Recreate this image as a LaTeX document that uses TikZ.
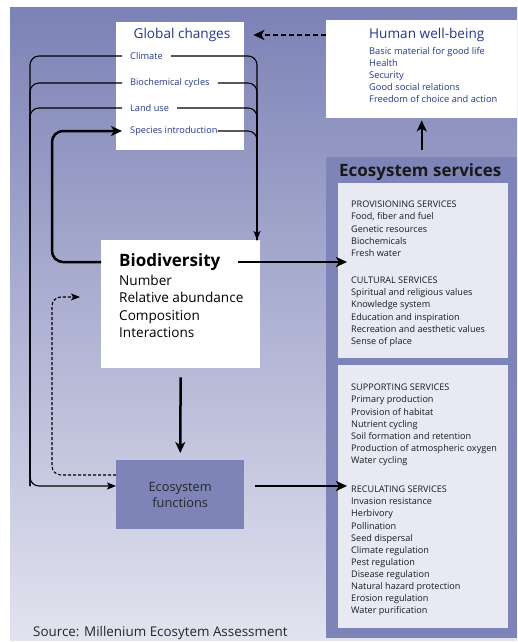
\documentclass[tikz,border=0pt]{standalone}
\usepackage{fontspec}
\setmainfont{Open Sans}
\usetikzlibrary{arrows.meta,calc}
\definecolor{bgtop}{RGB}{124,130,182}
\definecolor{bgbot}{RGB}{226,227,239}
\definecolor{panel}{RGB}{126,132,183}
\definecolor{innerbox}{RGB}{233,233,243}
\definecolor{bluetxt}{RGB}{35,55,140}
\definecolor{listtxt}{RGB}{25,25,30}
\tikzset{
  box/.style={fill=white, draw=none, anchor=north west, inner sep=0pt},
  gclabel/.style={text=bluetxt, font=\fontsize{9.2}{10}\selectfont, inner xsep=8pt, inner ysep=1pt, anchor=west},
  listnode/.style={text=listtxt, font=\fontsize{9.1}{12.1}\selectfont, align=left, anchor=north west, inner sep=0pt},
  thinline/.style={line width=1.1pt, rounded corners=9pt},
  thickline/.style={line width=2.5pt, rounded corners=11pt},
  thinarrow/.style={-{Stealth[length=9pt,width=7pt,inset=2pt]}},
  thickarrow/.style={-{Stealth[length=11pt,width=10pt,inset=3pt]}},
}
\begin{document}
\begin{tikzpicture}[x=1pt,y=-1pt]
\useasboundingbox (0,0) rectangle (517,642);
\shade[top color=bgtop,bottom color=bgbot] (10,8) rectangle (517,640);

% Global changes
\node[box, minimum width=128pt, minimum height=128pt] (gc) at (116,22) {};
\node[text=bluetxt, font=\fontsize{13.6}{15}\selectfont] (gctitle) at (182,35) {Global changes};
\node[gclabel] (climate) at (122,56) {Climate};
\node[gclabel] (biochem) at (122,83) {Biochemical cycles};
\node[gclabel] (landuse) at (122,108) {Land use};
\node[gclabel] (species) at (122,131) {Species introduction};

% Human well-being
\node[box, minimum width=191pt, minimum height=98pt] (hwb) at (326,20) {};
\node[text=bluetxt, font=\fontsize{13.6}{15}\selectfont, anchor=west, inner sep=0pt] (hwbtitle) at (369,35) {Human well-being};
\node[text=bluetxt, font=\fontsize{9.3}{12}\selectfont, align=left, anchor=north west, inner sep=0pt] (hwblist) at (369,47)
  {Basic material for good life\\Health\\Security\\Good social relations\\Freedom of choice and action};

% Biodiversity
\node[box, minimum width=159pt, minimum height=128pt] (bd) at (101,240) {};
\node[font=\fontsize{17}{19}\selectfont\bfseries, anchor=west, inner sep=1pt] (bdtitle) at (118,262) {Biodiversity};
\node[font=\fontsize{13.6}{17.3}\selectfont, align=left, anchor=north west, inner sep=0pt] (bdlist) at (119,275)
  {Number\\Relative abundance\\Composition\\Interactions};

% Ecosystem functions
\node[box, fill=panel, minimum width=128pt, minimum height=69pt] (ef) at (116,460) {};
\node[font=\fontsize{12.8}{16}\selectfont, align=center, text=black!85] (eftext) at (ef.center) {Ecosystem\\functions};

% Ecosystem services
\node[box, fill=panel, minimum width=191pt, minimum height=481pt] (es) at (326,157) {};
\node[font=\fontsize{17}{19}\selectfont\bfseries, anchor=west, inner sep=0pt, text=black!90] (estitle) at (339,172) {Ecosystem services};
\node[box, fill=innerbox, minimum width=170pt, minimum height=175pt] (es1) at (338,183) {};
\node[box, fill=innerbox, minimum width=170pt, minimum height=263pt] (es2) at (338,365) {};
\node[listnode] (prov) at (351,201) {PROVISIONING SERVICES\\Food, fiber and fuel\\Genetic resources\\Biochemicals\\Fresh water};
\node[listnode] (cult) at (351,277) {CULTURAL SERVICES\\Spiritual and religious values\\Knowledge system\\Education and inspiration\\Recreation and aesthetic values\\Sense of place};
\node[listnode] (supp) at (351,384) {SUPPORTING SERVICES\\Primary production\\Provision of habitat\\Nutrient cycling\\Soil formation and retention\\Production of atmospheric oxygen\\Water cycling};
\node[listnode] (regu) at (351,486) {RECULATING SERVICES\\Invasion resistance\\Herbivory\\Pollination\\Seed dispersal\\Climate regulation\\Pest regulation\\Disease regulation\\Natural hazard protection\\Erosion regulation\\Water purification};

% Source
\node[font=\fontsize{13.4}{15}\selectfont, anchor=west, inner sep=0pt, text=black!85] (source) at (33,633) {Source: Millenium Ecosytem Assessment};

% helper coordinates
\coordinate (lv) at (30,0);
\coordinate (rv) at (257,0);
\coordinate (sv) at (52,0);
\coordinate (efin) at ($(ef.north west)+(0,26)$);
\coordinate (efout) at ($(ef.north west)+(0,15)$);
\coordinate (dotend) at (80,297);
\coordinate (bdright) at (347,262);
\coordinate (efright) at (347,486);

% left loop lines into ecosystem functions
\draw[thinline, thinarrow] (climate.west) -- (climate.west -| lv) -- (lv |- efin) -- (efin);
\draw[thinline] (biochem.west) -- (biochem.west -| lv) -- (lv |- efin);
\draw[thinline] (landuse.west) -- (landuse.west -| lv) -- (lv |- efin);

% right lines into biodiversity
\draw[thinline, thinarrow] (climate.east) -- (climate.east -| rv) -- (rv |- bd.north);
\draw[thinline] (biochem.east) -- (biochem.east -| rv) -- (rv |- bd.north);
\draw[thinline] (landuse.east) -- (landuse.east -| rv) -- (rv |- bd.north);
\draw[thinline] ($(species.east)+(-8,0)$) -- (species.east -| rv) -- (rv |- bd.north);

% species introduction loop
\draw[thickline, thickarrow] (bd.west |- bdtitle) -- (sv |- bdtitle) -- (sv |- species) -- (species.west);

% dotted feedback
\draw[line width=1.1pt, dash pattern=on 3pt off 2pt, rounded corners=9pt, thinarrow] (efout) -- (sv |- efout) -- (sv |- dotend) -- (dotend);

% main arrows
\draw[thickline, thickarrow, shorten <=16pt] (bdtitle.east) -- (bdright);
\draw[thickline, thickarrow, shorten <=9pt, shorten >=7pt] (bd.south) -- (ef.north);
\draw[thickline, thickarrow, shorten <=11pt] (ef.east |- efright) -- (efright);
\draw[line width=2pt, dash pattern=on 5pt off 3pt, thickarrow, shorten >=9pt] (hwb.west |- gctitle) -- (gc.east |- gctitle);
\draw[line width=2pt, thickarrow, shorten <=7pt, shorten >=2pt] (es.north) -- (hwb.south -| es.north);
\end{tikzpicture}
\end{document}
